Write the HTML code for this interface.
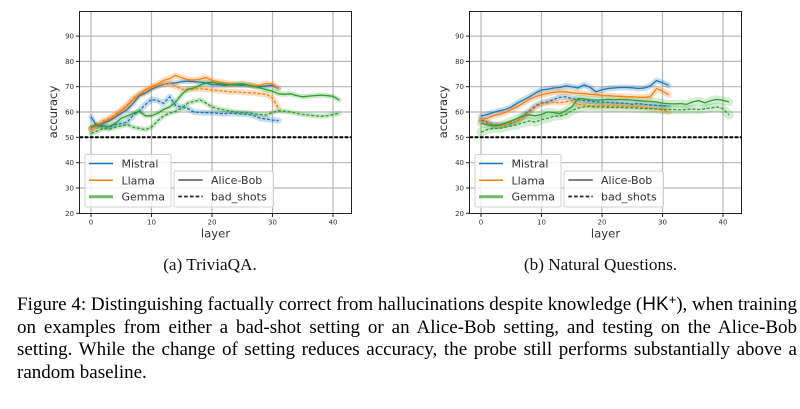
<!DOCTYPE html>
<html>
<head>
<meta charset="utf-8">
<style>
html,body{margin:0;padding:0;background:#fff;}
body{width:800px;height:409px;overflow:hidden;position:relative;}
svg{position:absolute;left:0;top:0;}
.cap{position:absolute;left:17px;width:780px;font-family:"Liberation Serif",serif;font-size:19px;line-height:22.8px;height:22.8px;color:#000;text-align:justify;text-align-last:justify;white-space:normal;overflow:visible;}
.hk{font-family:"Liberation Sans",sans-serif;}
.hk sup{font-size:0.68em;vertical-align:0.45em;line-height:0;}
</style>
</head>
<body>
<svg width="800" height="409" viewBox="0 0 800 409" xmlns="http://www.w3.org/2000/svg">
<rect x="0" y="0" width="800" height="409" fill="#fff"/>

<!-- ================= PLOT 1 ================= -->
<g>
  <g stroke="#b8b8b8" stroke-width="1.2">
    <line x1="91" y1="11.5" x2="91" y2="213.5"/>
    <line x1="151.5" y1="11.5" x2="151.5" y2="213.5"/>
    <line x1="212" y1="11.5" x2="212" y2="213.5"/>
    <line x1="272.5" y1="11.5" x2="272.5" y2="213.5"/>
    <line x1="333" y1="11.5" x2="333" y2="213.5"/>
    <line x1="79.5" y1="188" x2="351.5" y2="188"/>
    <line x1="79.5" y1="162.7" x2="351.5" y2="162.7"/>
    <line x1="79.5" y1="137.3" x2="351.5" y2="137.3"/>
    <line x1="79.5" y1="112" x2="351.5" y2="112"/>
    <line x1="79.5" y1="86.7" x2="351.5" y2="86.7"/>
    <line x1="79.5" y1="61.4" x2="351.5" y2="61.4"/>
    <line x1="79.5" y1="36.1" x2="351.5" y2="36.1"/>
  </g>
  <!-- bands -->
  <g fill="none" stroke-linejoin="round" stroke-linecap="round" stroke-opacity="0.25" stroke-width="5">
    <polyline stroke="#1f77b4" points="91,116.6 97.1,126.7 103.1,123.4 109.2,120.9 115.2,117.1 121.3,113.3 127.3,109.5 133.4,103.1 139.4,95.6 145.5,93 151.5,89.2 157.6,86.7 163.6,84.1 169.7,83.4 175.7,82.9 181.8,81.6 187.8,81.1 193.9,81.6 199.9,82.1 206,82.9 212,84.9 218.1,84.6 224.1,85.4 230.2,84.9 236.2,84.9 242.3,85.4 248.3,84.9 254.4,85.9 260.4,86.7 266.5,85.9 272.5,85.4 278.6,88.5"/>
    <polyline stroke="#1f77b4" stroke-width="6" points="91,128.4 97.1,125.9 103.1,126.7 109.2,127.2 115.2,124.7 121.3,123.4 127.3,122.1 133.4,115 139.4,110.7 145.5,104.4 151.5,99.4 157.6,100.6 163.6,103.4 169.7,96.8 175.7,105.7 181.8,106.9 187.8,108.5 193.9,112 199.9,112.5 206,112.7 212,112.7 218.1,113.3 224.1,113.8 230.2,113.3 236.2,113.5 242.3,114 248.3,114.5 254.4,115.8 260.4,118.3 266.5,119.1 272.5,120.1 278.6,120.6"/>
    <polyline stroke="#ff7f0e" stroke-width="6" points="91,128.4 97.1,125.9 103.1,122.1 109.2,119.6 115.2,115.8 121.3,110.7 127.3,105.7 133.4,99.4 139.4,94.3 145.5,89.7 151.5,86.7 157.6,84.1 163.6,80.4 169.7,78.6 175.7,75.3 181.8,77.8 187.8,79.6 193.9,80.1 199.9,79.1 206,77.6 212,80.4 218.1,81.6 224.1,82.9 230.2,83.7 236.2,84.1 242.3,83.7 248.3,84.7 254.4,85.9 260.4,85.4 266.5,83.4 272.5,84.1 278.6,88.5"/>
    <polyline stroke="#ff7f0e" stroke-width="6" points="91,129.7 97.1,125.2 103.1,120.9 109.2,118.3 115.2,114.5 121.3,109.9 127.3,104.9 133.4,98.1 139.4,94.3 145.5,91.8 151.5,88 157.6,85.4 163.6,84.1 169.7,83.4 175.7,86.2 181.8,89.2 187.8,89.7 193.9,89.2 199.9,88.7 206,89.2 212,90 218.1,90.5 224.1,91.2 230.2,91.8 236.2,91.8 242.3,92.3 248.3,92.8 254.4,93 260.4,93.8 266.5,94.3 272.5,98.1 278.6,108.5"/>
    <polyline stroke="#2ca02c" points="91,127.2 97.1,124.7 103.1,125.9 109.2,126.7 115.2,123.4 121.3,118.3 127.3,115.8 133.4,113.3 139.4,111.2 145.5,115.8 151.5,115.8 157.6,113.3 163.6,109.5 169.7,106.9 175.7,101.9 181.8,94.3 187.8,89.2 193.9,88 199.9,85.4 206,82.9 212,82.2 218.1,83.4 224.1,84.1 230.2,84.9 236.2,84.1 242.3,83.7 248.3,85.4 254.4,86.7 260.4,88 266.5,89.7 272.5,91.2 278.6,93.8 284.6,94.3 290.7,93.8 296.7,95.6 302.8,96.8 308.8,96.1 314.9,95.6 320.9,95.1 327,95.6 333,96.3 339.1,99.9"/>
    <polyline stroke="#2ca02c" points="91,133.5 97.1,131 103.1,128.4 109.2,129.2 115.2,127.2 121.3,125.9 127.3,124.7 133.4,127.2 139.4,128.4 145.5,129.7 151.5,127.2 157.6,120.9 163.6,115.8 169.7,113.3 175.7,111.2 181.8,108.2 187.8,103.1 193.9,101.4 199.9,99.9 206,103.1 212,106.9 218.1,108.7 224.1,109.9 230.2,111.2 236.2,112 242.3,112.5 248.3,112.7 254.4,113.8 260.4,114.5 266.5,115 272.5,112.5 278.6,110.7 284.6,111.2 290.7,112 296.7,113.3 302.8,114.5 308.8,115 314.9,115.8 320.9,116.3 327,115.8 333,114.5 339.1,113.3"/>
  </g>
  <!-- lines -->
  <g fill="none" stroke-linejoin="round" stroke-width="1.3">
    <polyline stroke="#1f77b4" points="91,116.6 97.1,126.7 103.1,123.4 109.2,120.9 115.2,117.1 121.3,113.3 127.3,109.5 133.4,103.1 139.4,95.6 145.5,93 151.5,89.2 157.6,86.7 163.6,84.1 169.7,83.4 175.7,82.9 181.8,81.6 187.8,81.1 193.9,81.6 199.9,82.1 206,82.9 212,84.9 218.1,84.6 224.1,85.4 230.2,84.9 236.2,84.9 242.3,85.4 248.3,84.9 254.4,85.9 260.4,86.7 266.5,85.9 272.5,85.4 278.6,88.5"/>
    <polyline stroke="#1f77b4" stroke-dasharray="3.2,1.6" points="91,128.4 97.1,125.9 103.1,126.7 109.2,127.2 115.2,124.7 121.3,123.4 127.3,122.1 133.4,115 139.4,110.7 145.5,104.4 151.5,99.4 157.6,100.6 163.6,103.4 169.7,96.8 175.7,105.7 181.8,106.9 187.8,108.5 193.9,112 199.9,112.5 206,112.7 212,112.7 218.1,113.3 224.1,113.8 230.2,113.3 236.2,113.5 242.3,114 248.3,114.5 254.4,115.8 260.4,118.3 266.5,119.1 272.5,120.1 278.6,120.6"/>
    <polyline stroke="#ff7f0e" points="91,128.4 97.1,125.9 103.1,122.1 109.2,119.6 115.2,115.8 121.3,110.7 127.3,105.7 133.4,99.4 139.4,94.3 145.5,89.7 151.5,86.7 157.6,84.1 163.6,80.4 169.7,78.6 175.7,75.3 181.8,77.8 187.8,79.6 193.9,80.1 199.9,79.1 206,77.6 212,80.4 218.1,81.6 224.1,82.9 230.2,83.7 236.2,84.1 242.3,83.7 248.3,84.7 254.4,85.9 260.4,85.4 266.5,83.4 272.5,84.1 278.6,88.5"/>
    <polyline stroke="#ff7f0e" stroke-dasharray="3.2,1.6" points="91,129.7 97.1,125.2 103.1,120.9 109.2,118.3 115.2,114.5 121.3,109.9 127.3,104.9 133.4,98.1 139.4,94.3 145.5,91.8 151.5,88 157.6,85.4 163.6,84.1 169.7,83.4 175.7,86.2 181.8,89.2 187.8,89.7 193.9,89.2 199.9,88.7 206,89.2 212,90 218.1,90.5 224.1,91.2 230.2,91.8 236.2,91.8 242.3,92.3 248.3,92.8 254.4,93 260.4,93.8 266.5,94.3 272.5,98.1 278.6,108.5"/>
    <polyline stroke="#2ca02c" points="91,127.2 97.1,124.7 103.1,125.9 109.2,126.7 115.2,123.4 121.3,118.3 127.3,115.8 133.4,113.3 139.4,111.2 145.5,115.8 151.5,115.8 157.6,113.3 163.6,109.5 169.7,106.9 175.7,101.9 181.8,94.3 187.8,89.2 193.9,88 199.9,85.4 206,82.9 212,82.2 218.1,83.4 224.1,84.1 230.2,84.9 236.2,84.1 242.3,83.7 248.3,85.4 254.4,86.7 260.4,88 266.5,89.7 272.5,91.2 278.6,93.8 284.6,94.3 290.7,93.8 296.7,95.6 302.8,96.8 308.8,96.1 314.9,95.6 320.9,95.1 327,95.6 333,96.3 339.1,99.9"/>
    <polyline stroke="#2ca02c" stroke-dasharray="3.2,1.6" points="91,133.5 97.1,131 103.1,128.4 109.2,129.2 115.2,127.2 121.3,125.9 127.3,124.7 133.4,127.2 139.4,128.4 145.5,129.7 151.5,127.2 157.6,120.9 163.6,115.8 169.7,113.3 175.7,111.2 181.8,108.2 187.8,103.1 193.9,101.4 199.9,99.9 206,103.1 212,106.9 218.1,108.7 224.1,109.9 230.2,111.2 236.2,112 242.3,112.5 248.3,112.7 254.4,113.8 260.4,114.5 266.5,115 272.5,112.5 278.6,110.7 284.6,111.2 290.7,112 296.7,113.3 302.8,114.5 308.8,115 314.9,115.8 320.9,116.3 327,115.8 333,114.5 339.1,113.3"/>
  </g>
  <line x1="79.5" y1="137.3" x2="351.5" y2="137.3" stroke="#000" stroke-width="2" stroke-dasharray="3.6,1.6"/>
  <rect x="79.5" y="11.5" width="272" height="202" fill="none" stroke="#222" stroke-width="1"/>
  <g stroke="#222" stroke-width="1">
    <line x1="76" y1="213.3" x2="79.5" y2="213.3"/>
    <line x1="76" y1="188" x2="79.5" y2="188"/>
    <line x1="76" y1="162.7" x2="79.5" y2="162.7"/>
    <line x1="76" y1="137.3" x2="79.5" y2="137.3"/>
    <line x1="76" y1="112" x2="79.5" y2="112"/>
    <line x1="76" y1="86.7" x2="79.5" y2="86.7"/>
    <line x1="76" y1="61.4" x2="79.5" y2="61.4"/>
    <line x1="76" y1="36.1" x2="79.5" y2="36.1"/>
    <line x1="91" y1="213.5" x2="91" y2="217"/>
    <line x1="151.5" y1="213.5" x2="151.5" y2="217"/>
    <line x1="212" y1="213.5" x2="212" y2="217"/>
    <line x1="272.5" y1="213.5" x2="272.5" y2="217"/>
    <line x1="333" y1="213.5" x2="333" y2="217"/>
  </g>
  <g font-family="DejaVu Sans, sans-serif" font-size="7" fill="#333" text-anchor="end">
    <text x="74" y="215.8">20</text>
    <text x="74" y="190.5">30</text>
    <text x="74" y="165.2">40</text>
    <text x="74" y="139.8">50</text>
    <text x="74" y="114.5">60</text>
    <text x="74" y="89.2">70</text>
    <text x="74" y="63.9">80</text>
    <text x="74" y="38.6">90</text>
  </g>
  <g font-family="DejaVu Sans, sans-serif" font-size="7" fill="#333" text-anchor="middle">
    <text x="91" y="224.5">0</text>
    <text x="151.5" y="224.5">10</text>
    <text x="212" y="224.5">20</text>
    <text x="272.5" y="224.5">30</text>
    <text x="333" y="224.5">40</text>
  </g>
  <text x="215.5" y="237.5" font-family="DejaVu Sans, sans-serif" font-size="11.7" fill="#333" text-anchor="middle">layer</text>
  <text transform="translate(57,112) rotate(-90)" x="0" y="0" font-family="DejaVu Sans, sans-serif" font-size="11.7" fill="#333" text-anchor="middle">accuracy</text>
  <!-- legend 1 -->
  <rect x="85" y="154.5" width="86" height="52.5" rx="2" fill="#fff" fill-opacity="0.8" stroke="#d0d0d0" stroke-width="1"/>
  <line x1="89" y1="163.5" x2="113" y2="163.5" stroke="#1f77b4" stroke-width="1.5"/>
  <line x1="89" y1="180.3" x2="113" y2="180.3" stroke="#ff7f0e" stroke-width="1.5"/>
  <line x1="89" y1="196.7" x2="113" y2="196.7" stroke="#2ca02c" stroke-width="3" stroke-opacity="0.7"/>
  <g font-family="DejaVu Sans, sans-serif" font-size="11" fill="#333">
    <text x="121.5" y="167.5">Mistral</text>
    <text x="121.5" y="184.3">Llama</text>
    <text x="121.5" y="200.7">Gemma</text>
  </g>
  <!-- legend 2 -->
  <rect x="174" y="171" width="99.5" height="36" rx="2" fill="#fff" fill-opacity="0.8" stroke="#d0d0d0" stroke-width="1"/>
  <line x1="178.3" y1="180" x2="202.7" y2="180" stroke="#333" stroke-width="1.3"/>
  <line x1="178.3" y1="196.5" x2="202.7" y2="196.5" stroke="#222" stroke-width="1.8" stroke-dasharray="3.6,2.2"/>
  <g font-family="DejaVu Sans, sans-serif" font-size="11" fill="#333">
    <text x="211" y="184">Alice-Bob</text>
    <text x="211" y="200.5">bad_shots</text>
  </g>
</g>

<!-- ================= PLOT 2 ================= -->
<g transform="translate(390,0)">
  <g stroke="#b8b8b8" stroke-width="1.2">
    <line x1="91" y1="11.5" x2="91" y2="213.5"/>
    <line x1="151.5" y1="11.5" x2="151.5" y2="213.5"/>
    <line x1="212" y1="11.5" x2="212" y2="213.5"/>
    <line x1="272.5" y1="11.5" x2="272.5" y2="213.5"/>
    <line x1="333" y1="11.5" x2="333" y2="213.5"/>
    <line x1="79.5" y1="188" x2="351.5" y2="188"/>
    <line x1="79.5" y1="162.7" x2="351.5" y2="162.7"/>
    <line x1="79.5" y1="137.3" x2="351.5" y2="137.3"/>
    <line x1="79.5" y1="112" x2="351.5" y2="112"/>
    <line x1="79.5" y1="86.7" x2="351.5" y2="86.7"/>
    <line x1="79.5" y1="61.4" x2="351.5" y2="61.4"/>
    <line x1="79.5" y1="36.1" x2="351.5" y2="36.1"/>
  </g>
  <g fill="none" stroke-linejoin="round" stroke-linecap="round" stroke-opacity="0.25" stroke-width="5">
    <polyline stroke="#1f77b4" stroke-width="6" points="91,116 97.1,114.5 103.1,112.5 109.2,110.7 115.2,109.5 121.3,106.9 127.3,103.1 133.4,99.9 139.4,96.8 145.5,93 151.5,90 157.6,89.2 163.6,88 169.7,87.5 175.7,85.9 181.8,86.7 187.8,88 193.9,84.9 199.9,87.2 206,91.8 212,89.7 218.1,88.5 224.1,88 230.2,87.5 236.2,87.5 242.3,87.8 248.3,88.5 254.4,88 260.4,85.9 266.5,80.6 272.5,82.7 278.6,85.4"/>
    <polyline stroke="#1f77b4" stroke-width="6" points="91,119.6 97.1,122.1 103.1,124.7 109.2,125.2 115.2,124.7 121.3,123.4 127.3,120.9 133.4,115.8 139.4,110.7 145.5,105.7 151.5,103.1 157.6,101.9 163.6,99.4 169.7,97.3 175.7,96.8 181.8,98.6 187.8,99.9 193.9,100.6 199.9,101.1 206,101.9 212,101.9 218.1,102.4 224.1,102.9 230.2,103.1 236.2,103.4 242.3,104.4 248.3,103.4 254.4,104.4 260.4,104.9 266.5,105.4 272.5,105.7 278.6,105.9"/>
    <polyline stroke="#ff7f0e" stroke-width="6" points="91,119.6 97.1,118.3 103.1,115.8 109.2,114.5 115.2,112.5 121.3,109.5 127.3,106.9 133.4,103.1 139.4,99.4 145.5,96.8 151.5,94.8 157.6,93.5 163.6,92.3 169.7,91.8 175.7,91.8 181.8,92.8 187.8,93.3 193.9,93.5 199.9,94.3 206,94.8 212,95.3 218.1,95.6 224.1,96.1 230.2,96.3 236.2,96.8 242.3,96.8 248.3,97.1 254.4,97.3 260.4,96.8 266.5,88.7 272.5,91 278.6,94.8"/>
    <polyline stroke="#ff7f0e" stroke-width="6" points="91,121.6 97.1,123.4 103.1,125.2 109.2,125.9 115.2,124.7 121.3,122.6 127.3,120.9 133.4,117.1 139.4,112 145.5,106.9 151.5,103.9 157.6,102.9 163.6,102.4 169.7,102.7 175.7,101.9 181.8,100.4 187.8,104.4 193.9,104.9 199.9,105.7 206,105.9 212,105.7 218.1,105.9 224.1,106.1 230.2,105.9 236.2,106.1 242.3,106.4 248.3,106.9 254.4,107.4 260.4,108.2 266.5,108.7 272.5,109.9 278.6,112"/>
    <polyline stroke="#2ca02c" stroke-width="8" stroke-opacity="0.2" points="91,123.4 97.1,124.7 103.1,125.9 109.2,125.2 115.2,123.4 121.3,120.9 127.3,118.3 133.4,115.8 139.4,115 145.5,115.8 151.5,114.5 157.6,112 163.6,112.5 169.7,113.8 175.7,110.7 181.8,106.9 187.8,98.6 193.9,98.8 199.9,99.9 206,100.1 212,99.9 218.1,99.4 224.1,99.9 230.2,99.4 236.2,99.7 242.3,100.1 248.3,100.6 254.4,101.1 260.4,101.4 266.5,101.9 272.5,103.1 278.6,103.6 284.6,103.9 290.7,103.6 296.7,104.4 302.8,101.9 308.8,100.6 314.9,102.9 320.9,100.6 327,99.4 333,100.4 339.1,101.9"/>
    <polyline stroke="#2ca02c" stroke-width="9" stroke-opacity="0.2" points="91,132.2 97.1,129.7 103.1,128.4 109.2,128.4 115.2,127.2 121.3,125.9 127.3,124.7 133.4,122.6 139.4,120.9 145.5,122.1 151.5,119.6 157.6,118.3 163.6,116.3 169.7,115.8 175.7,114.5 181.8,110.7 187.8,108.2 193.9,106.9 199.9,106.4 206,106.9 212,106.9 218.1,107.2 224.1,107.4 230.2,107.4 236.2,107.7 242.3,107.9 248.3,108.2 254.4,108.5 260.4,108.7 266.5,109 272.5,109.5 278.6,109.5 284.6,109.5 290.7,109.9 296.7,109.5 302.8,109 308.8,109.5 314.9,108.7 320.9,107.9 327,106.9 333,108.7 339.1,115"/>
  </g>
  <g fill="none" stroke-linejoin="round" stroke-width="1.3">
    <polyline stroke="#1f77b4" points="91,116 97.1,114.5 103.1,112.5 109.2,110.7 115.2,109.5 121.3,106.9 127.3,103.1 133.4,99.9 139.4,96.8 145.5,93 151.5,90 157.6,89.2 163.6,88 169.7,87.5 175.7,85.9 181.8,86.7 187.8,88 193.9,84.9 199.9,87.2 206,91.8 212,89.7 218.1,88.5 224.1,88 230.2,87.5 236.2,87.5 242.3,87.8 248.3,88.5 254.4,88 260.4,85.9 266.5,80.6 272.5,82.7 278.6,85.4"/>
    <polyline stroke="#1f77b4" stroke-dasharray="3.2,1.6" points="91,119.6 97.1,122.1 103.1,124.7 109.2,125.2 115.2,124.7 121.3,123.4 127.3,120.9 133.4,115.8 139.4,110.7 145.5,105.7 151.5,103.1 157.6,101.9 163.6,99.4 169.7,97.3 175.7,96.8 181.8,98.6 187.8,99.9 193.9,100.6 199.9,101.1 206,101.9 212,101.9 218.1,102.4 224.1,102.9 230.2,103.1 236.2,103.4 242.3,104.4 248.3,103.4 254.4,104.4 260.4,104.9 266.5,105.4 272.5,105.7 278.6,105.9"/>
    <polyline stroke="#ff7f0e" points="91,119.6 97.1,118.3 103.1,115.8 109.2,114.5 115.2,112.5 121.3,109.5 127.3,106.9 133.4,103.1 139.4,99.4 145.5,96.8 151.5,94.8 157.6,93.5 163.6,92.3 169.7,91.8 175.7,91.8 181.8,92.8 187.8,93.3 193.9,93.5 199.9,94.3 206,94.8 212,95.3 218.1,95.6 224.1,96.1 230.2,96.3 236.2,96.8 242.3,96.8 248.3,97.1 254.4,97.3 260.4,96.8 266.5,88.7 272.5,91 278.6,94.8"/>
    <polyline stroke="#ff7f0e" stroke-dasharray="3.2,1.6" points="91,121.6 97.1,123.4 103.1,125.2 109.2,125.9 115.2,124.7 121.3,122.6 127.3,120.9 133.4,117.1 139.4,112 145.5,106.9 151.5,103.9 157.6,102.9 163.6,102.4 169.7,102.7 175.7,101.9 181.8,100.4 187.8,104.4 193.9,104.9 199.9,105.7 206,105.9 212,105.7 218.1,105.9 224.1,106.1 230.2,105.9 236.2,106.1 242.3,106.4 248.3,106.9 254.4,107.4 260.4,108.2 266.5,108.7 272.5,109.9 278.6,112"/>
    <polyline stroke="#2ca02c" points="91,123.4 97.1,124.7 103.1,125.9 109.2,125.2 115.2,123.4 121.3,120.9 127.3,118.3 133.4,115.8 139.4,115 145.5,115.8 151.5,114.5 157.6,112 163.6,112.5 169.7,113.8 175.7,110.7 181.8,106.9 187.8,98.6 193.9,98.8 199.9,99.9 206,100.1 212,99.9 218.1,99.4 224.1,99.9 230.2,99.4 236.2,99.7 242.3,100.1 248.3,100.6 254.4,101.1 260.4,101.4 266.5,101.9 272.5,103.1 278.6,103.6 284.6,103.9 290.7,103.6 296.7,104.4 302.8,101.9 308.8,100.6 314.9,102.9 320.9,100.6 327,99.4 333,100.4 339.1,101.9"/>
    <polyline stroke="#2ca02c" stroke-dasharray="3.2,1.6" points="91,132.2 97.1,129.7 103.1,128.4 109.2,128.4 115.2,127.2 121.3,125.9 127.3,124.7 133.4,122.6 139.4,120.9 145.5,122.1 151.5,119.6 157.6,118.3 163.6,116.3 169.7,115.8 175.7,114.5 181.8,110.7 187.8,108.2 193.9,106.9 199.9,106.4 206,106.9 212,106.9 218.1,107.2 224.1,107.4 230.2,107.4 236.2,107.7 242.3,107.9 248.3,108.2 254.4,108.5 260.4,108.7 266.5,109 272.5,109.5 278.6,109.5 284.6,109.5 290.7,109.9 296.7,109.5 302.8,109 308.8,109.5 314.9,108.7 320.9,107.9 327,106.9 333,108.7 339.1,115"/>
  </g>
  <line x1="79.5" y1="137.3" x2="351.5" y2="137.3" stroke="#000" stroke-width="2" stroke-dasharray="3.6,1.6"/>
  <rect x="79.5" y="11.5" width="272" height="202" fill="none" stroke="#222" stroke-width="1"/>
  <g stroke="#222" stroke-width="1">
    <line x1="76" y1="213.3" x2="79.5" y2="213.3"/>
    <line x1="76" y1="188" x2="79.5" y2="188"/>
    <line x1="76" y1="162.7" x2="79.5" y2="162.7"/>
    <line x1="76" y1="137.3" x2="79.5" y2="137.3"/>
    <line x1="76" y1="112" x2="79.5" y2="112"/>
    <line x1="76" y1="86.7" x2="79.5" y2="86.7"/>
    <line x1="76" y1="61.4" x2="79.5" y2="61.4"/>
    <line x1="76" y1="36.1" x2="79.5" y2="36.1"/>
    <line x1="91" y1="213.5" x2="91" y2="217"/>
    <line x1="151.5" y1="213.5" x2="151.5" y2="217"/>
    <line x1="212" y1="213.5" x2="212" y2="217"/>
    <line x1="272.5" y1="213.5" x2="272.5" y2="217"/>
    <line x1="333" y1="213.5" x2="333" y2="217"/>
  </g>
  <g font-family="DejaVu Sans, sans-serif" font-size="7" fill="#333" text-anchor="end">
    <text x="74" y="215.8">20</text>
    <text x="74" y="190.5">30</text>
    <text x="74" y="165.2">40</text>
    <text x="74" y="139.8">50</text>
    <text x="74" y="114.5">60</text>
    <text x="74" y="89.2">70</text>
    <text x="74" y="63.9">80</text>
    <text x="74" y="38.6">90</text>
  </g>
  <g font-family="DejaVu Sans, sans-serif" font-size="7" fill="#333" text-anchor="middle">
    <text x="91" y="224.5">0</text>
    <text x="151.5" y="224.5">10</text>
    <text x="212" y="224.5">20</text>
    <text x="272.5" y="224.5">30</text>
    <text x="333" y="224.5">40</text>
  </g>
  <text x="215.5" y="237.5" font-family="DejaVu Sans, sans-serif" font-size="11.7" fill="#333" text-anchor="middle">layer</text>
  <text transform="translate(57,112) rotate(-90)" x="0" y="0" font-family="DejaVu Sans, sans-serif" font-size="11.7" fill="#333" text-anchor="middle">accuracy</text>
  <rect x="85" y="154.5" width="86" height="52.5" rx="2" fill="#fff" fill-opacity="0.8" stroke="#d0d0d0" stroke-width="1"/>
  <line x1="89" y1="163.5" x2="113" y2="163.5" stroke="#1f77b4" stroke-width="1.5"/>
  <line x1="89" y1="180.3" x2="113" y2="180.3" stroke="#ff7f0e" stroke-width="1.5"/>
  <line x1="89" y1="196.7" x2="113" y2="196.7" stroke="#2ca02c" stroke-width="3" stroke-opacity="0.7"/>
  <g font-family="DejaVu Sans, sans-serif" font-size="11" fill="#333">
    <text x="121.5" y="167.5">Mistral</text>
    <text x="121.5" y="184.3">Llama</text>
    <text x="121.5" y="200.7">Gemma</text>
  </g>
  <rect x="174" y="171" width="99.5" height="36" rx="2" fill="#fff" fill-opacity="0.8" stroke="#d0d0d0" stroke-width="1"/>
  <line x1="178.3" y1="180" x2="202.7" y2="180" stroke="#333" stroke-width="1.3"/>
  <line x1="178.3" y1="196.5" x2="202.7" y2="196.5" stroke="#222" stroke-width="1.8" stroke-dasharray="3.6,2.2"/>
  <g font-family="DejaVu Sans, sans-serif" font-size="11" fill="#333">
    <text x="211" y="184">Alice-Bob</text>
    <text x="211" y="200.5">bad_shots</text>
  </g>
</g>

<!-- sub-captions -->
<text x="210" y="270" font-family="Liberation Serif, serif" font-size="17.2" fill="#111" text-anchor="middle">(a) TriviaQA.</text>
<text x="600.5" y="270" font-family="Liberation Serif, serif" font-size="17.2" fill="#111" text-anchor="middle">(b) Natural Questions.</text>
</svg>

<div class="cap" style="top:293.7px;word-spacing:-1.5px;">Figure 4: Distinguishing factually correct from hallucinations despite knowledge (<span class="hk">HK<sup>+</sup></span>), when training</div>
<div class="cap" style="top:316.5px;">on examples from either a bad-shot setting or an Alice-Bob setting, and testing on the Alice-Bob</div>
<div class="cap" style="top:339.3px;">setting. While the change of setting reduces accuracy, the probe still performs substantially above a</div>
<div class="cap" style="top:362.1px;text-align:left;text-align-last:left;">random baseline.</div>
</body>
</html>
